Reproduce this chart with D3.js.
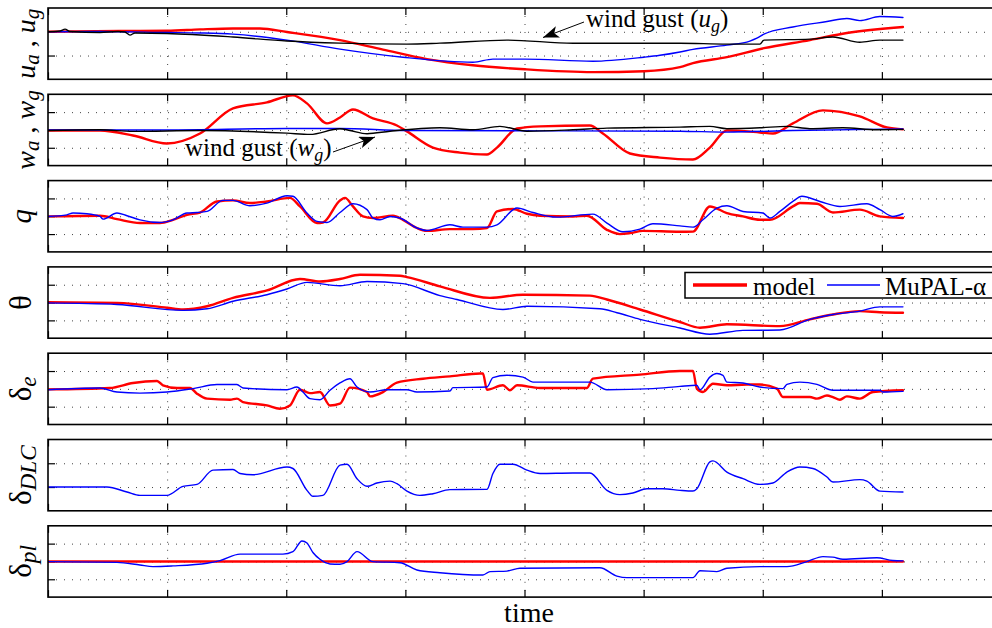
<!DOCTYPE html>
<html><head><meta charset="utf-8">
<script src="https://cdn.jsdelivr.net/npm/d3@7"></script>
<style>body{margin:0;background:#fff}svg{display:block}</style>
</head><body>
<svg id="chart" width="992" height="628"></svg>
<script>
// ---------- data (time, value) ----------
const xTicks = [0,10,20,30,40,50,60,70];

const uModel = [[0,0],[6.04,0.03],[9.99,0.04],[12.76,0.10],[15.53,0.14],[17.79,0.14],[20.06,-0.01],[24.51,-0.35],[28.12,-0.75],[31.81,-1.15],[35.67,-1.41],[40.04,-1.58],[45.74,-1.70],[50.03,-1.66],[53.05,-1.49],[54.14,-1.32],[56.99,-1.07],[60.1,-0.69],[63.96,-0.35],[67.06,-0.05],[71.77,0.20]];
const uMupal = [[0,0],[4.36,0.01],[9.99,-0.03],[12.76,-0.05],[15.53,-0.10],[20.06,-0.35],[24.51,-0.73],[29.8,-1.07],[35.67,-1.28],[37.35,-1.15],[40.04,-1.15],[45.74,-1.24],[50.03,-1.07],[51.37,-0.99],[53.05,-0.85],[54.14,-0.74],[56.99,-0.56],[58.92,-0.39],[59.51,-0.27],[60.1,-0.10],[62.53,0.20],[65.39,0.43],[67.06,0.56],[68.15,0.47],[69.83,0.64],[71.77,0.60]];
const uGust = [[0,0],[1.01,0.03],[1.43,0.11],[1.85,0.01],[4.36,-0.03],[5.88,0.01],[6.46,-0.01],[6.88,-0.14],[7.3,-0.05],[9.99,-0.07],[15.53,-0.22],[20.06,-0.39],[24.51,-0.48],[30.13,-0.52],[32.9,-0.48],[38.53,-0.35],[44.07,-0.48],[53.05,-0.48],[56.99,-0.52],[59.76,-0.52],[60.1,-0.35],[63.96,-0.31],[65.89,-0.22],[68.15,-0.44],[69.83,-0.35],[71.77,-0.35]];

const wModel = [[0,-0.03],[4.36,-0.03],[7.13,-0.31],[9.99,-0.76],[12.76,-0.20],[15.53,1.21],[18.38,1.55],[20.56,1.94],[21.74,1.49],[23.42,0.37],[24.51,0.70],[25.6,1.15],[27.28,0.65],[29.29,0.25],[30.13,-0.08],[32.31,-0.99],[34.58,-1.27],[36.85,-1.38],[37.69,-0.99],[39.37,0.08],[41.3,0.20],[45.49,0.25],[46.58,-0.20],[48.85,-1.32],[51.37,-1.55],[54.14,-1.66],[55.56,-0.99],[56.99,-0.03],[59.76,-0.14],[60.85,-0.20],[62.53,0.37],[65.05,1.10],[68.15,0.76],[70.42,0.14],[71.77,0.03]];
const wMupal = [[0,0],[9.99,0],[20.06,0.08],[24.51,0.08],[30.13,-0.03],[53.05,-0.07],[56.99,-0.12],[62.53,-0.03],[71.77,0.06]];
const wGust = [[0,-0.03],[4.36,0.01],[7.13,-0.08],[12.76,-0.03],[20.06,-0.18],[21.99,-0.25],[24.51,0.07],[25.35,-0.03],[26.78,-0.21],[28.71,-0.07],[32.9,0.12],[35.67,0.01],[37.94,0.20],[40.2,-0.07],[44.07,0.01],[46.92,0.10],[53.05,0.16],[55.56,0.20],[56.99,0.07],[59.76,0.12],[62.03,0.20],[63.96,0.07],[66.73,0.12],[69.58,0.01],[71.77,0.03]];

const qModel = [[0,-0.01],[4.36,0.03],[5.79,-0.16],[7.72,-0.38],[9.4,-0.38],[10.49,-0.20],[11.67,0.08],[12.76,0.21],[14.18,0.83],[15.53,0.89],[16.95,0.74],[18.38,0.83],[20.31,1.03],[21.15,0.55],[22.58,-0.38],[23.08,-0.35],[24.51,0.89],[24.93,1.03],[25.6,0.55],[26.44,-0.01],[27.28,-0.10],[28.96,0.03],[29.8,-0.20],[30.97,-0.66],[31.81,-0.82],[33.74,-0.72],[35.67,-0.72],[36.85,-0.66],[37.69,0.27],[39.03,0.41],[40.2,0.14],[41.3,0.03],[44.07,-0.01],[45.24,0.03],[46.92,-0.76],[48.01,-1.00],[48.85,-0.95],[49.94,-0.82],[53.05,-0.87],[54.14,-0.86],[55.56,0.55],[56.99,0.18],[58.34,-0.01],[59.76,-0.20],[60.6,-0.20],[62.53,0.55],[63.12,0.74],[64.55,0.70],[65.89,0.21],[68.15,0.37],[69.83,-0.01],[71.77,-0.10]];
const qMupal = [[0,-0.01],[1.59,0.08],[2.1,0.18],[3.27,0.14],[4.36,-0.01],[4.62,-0.16],[5.79,0.18],[6.63,0.03],[7.72,-0.20],[9.4,-0.35],[10.49,-0.20],[11.67,0.18],[12.51,0.21],[13.35,0.27],[14.69,0.89],[15.53,0.89],[16.95,0.59],[18.38,0.74],[20.06,1.15],[20.56,1.12],[21.74,0.18],[22.58,-0.29],[23.42,-0.35],[24.51,0.21],[25.6,0.70],[26.78,0.37],[27.28,-0.10],[27.87,-0.20],[28.71,-0.01],[29.55,-0.10],[30.97,-0.66],[31.81,-0.80],[33.74,-0.48],[34.83,-0.61],[36.85,-0.61],[37.69,-0.48],[39.37,0.46],[40.71,0.21],[42.72,-0.05],[45.74,0.12],[46.92,-0.38],[48.26,-0.87],[49.69,-0.72],[50.78,-0.42],[53.05,-0.54],[54.14,-0.61],[54.98,-0.20],[56.15,0.46],[56.99,0.59],[58.34,0.27],[60.01,0.18],[60.6,-0.10],[61.44,0.27],[62.53,0.83],[63.29,1.12],[64.8,0.83],[66.48,0.55],[68.74,0.70],[69.83,0.37],[70.92,-0.01],[71.77,0.14]];

const thModel = [[0,0.02],[5.79,-0.02],[9.99,-0.29],[11.33,-0.39],[13.35,-0.21],[15.53,0.26],[18.38,0.68],[21.15,1.32],[22.83,1.18],[24.51,1.32],[26.19,1.56],[29.55,1.50],[30.13,1.43],[32.9,0.91],[37.1,0.26],[39.87,0.44],[45.49,0.39],[46.92,0.17],[49.69,-0.39],[53.05,-1.09],[54.73,-1.41],[56.99,-1.22],[61.44,-1.32],[63.96,-0.94],[65.89,-0.67],[68.15,-0.48],[69.83,-0.54],[71.77,-0.57]];
const thMupal = [[0,-0.02],[5.79,-0.11],[11.33,-0.44],[13.35,-0.35],[15.53,0.07],[18.38,0.44],[20.06,0.76],[21.74,1.13],[24.51,0.94],[26.78,1.18],[29.8,1.06],[32.9,0.39],[34.33,0.17],[38.19,-0.39],[40.2,-0.21],[46.33,-0.35],[47.76,-0.57],[49.69,-0.94],[53.05,-1.43],[55.56,-1.78],[58.34,-1.56],[61.44,-1.54],[63.96,-0.94],[65.89,-0.67],[68.15,-0.48],[69.83,-0.24],[71.77,-0.24]];

const deModel = [[0,-0.03],[5.2,0.05],[7.13,0.33],[9.15,0.44],[9.65,0.20],[10.83,0.05],[11.92,0.05],[12.51,-0.27],[13.35,-0.55],[15.28,-0.61],[15.86,-0.55],[16.37,-0.74],[18.38,-0.93],[19.47,-1.12],[20.31,-0.93],[21.15,-0.05],[21.99,-0.24],[22.83,-0.18],[23.67,-0.93],[24.51,-0.83],[25.35,0.07],[26.78,-0.18],[27.03,-0.42],[28.12,-0.18],[29.29,0.35],[31.48,0.57],[33.74,0.70],[36.26,0.86],[36.51,0.86],[36.85,-0.05],[38.19,0.20],[38.78,-0.08],[39.37,0.20],[41.3,0.05],[45.24,0.05],[45.74,0.57],[49.69,0.80],[53.05,1.00],[54.14,1.00],[54.47,0.01],[54.98,-0.18],[55.82,0.29],[56.99,0.20],[58.67,0.24],[59.76,0.24],[61.19,0.01],[61.69,-0.46],[63.96,-0.46],[64.55,-0.55],[65.39,-0.37],[65.89,-0.46],[66.48,-0.61],[67.06,-0.42],[68.15,-0.55],[69.25,-0.18],[71.77,-0.08]];
const deMupal = [[0,-0.05],[4.36,0.05],[5.79,-0.18],[7.72,-0.24],[9.99,-0.18],[12.17,0.01],[14.18,0.24],[15.86,0.24],[16.37,0.05],[20.06,-0.05],[20.9,0.10],[21.4,-0.18],[21.99,-0.55],[22.83,-0.61],[23.67,-0.08],[24.51,0.33],[25.35,0.57],[25.94,0.10],[27.03,-0.18],[28.45,-0.05],[30.13,-0.05],[30.97,-0.18],[33.74,-0.12],[33.99,0.07],[36.85,0.10],[37.35,0.63],[38.53,0.76],[39.87,0.66],[40.71,0.38],[45.49,0.38],[46.92,-0.05],[50.78,0.01],[53.05,0.14],[54.47,0.20],[54.73,-0.05],[55.56,0.66],[56.15,0.86],[56.66,0.76],[56.99,0.38],[58.34,0.33],[59.76,0.10],[61.69,0.01],[62.03,0.25],[63.12,0.38],[64.55,0.25],[65.89,-0.08],[69.83,-0.08],[70.08,-0.18],[71.77,-0.14]];

const dlcMupal = [[0,0],[4.95,0],[6.63,-0.21],[7.72,-0.35],[9.99,-0.35],[11.33,0.03],[12.51,0.11],[13.85,0.71],[15.53,0.74],[16.12,0.57],[17.21,0.52],[20.06,0.84],[20.56,0.78],[21.74,-0.14],[22.24,-0.39],[23.08,-0.35],[24.51,0.92],[25.1,0.96],[25.94,0.35],[26.78,0.03],[27.61,0.17],[28.71,0.25],[29.29,0.14],[30.13,-0.17],[31.22,-0.35],[32.31,-0.28],[33.74,-0.11],[36.85,-0.10],[37.35,0.57],[37.94,0.96],[39.03,0.96],[40.2,0.71],[41.3,0.57],[44.07,0.59],[45.49,0.59],[46.92,-0.14],[48.01,-0.32],[49.1,-0.25],[50.28,-0.07],[51.62,-0.07],[53.05,-0.14],[54.14,-0.17],[54.47,-0.07],[55.56,1.06],[55.82,1.10],[56.99,0.63],[58.34,0.35],[59.76,0.11],[60.85,0.17],[62.03,0.63],[63.12,0.84],[64.21,0.78],[65.39,0.42],[65.89,0.21],[68.15,0.31],[68.74,0.25],[69.83,-0.17],[71.77,-0.21]];

const plModel = [[0,0],[71.77,0]];
const plMupal = [[0,-0.01],[5.79,-0.05],[7.72,-0.20],[8.81,-0.29],[10.49,-0.25],[13.35,-0.10],[14.44,0.05],[16.12,0.41],[19.72,0.41],[20.56,0.55],[21.32,1.15],[21.74,1.03],[22.24,0.50],[22.83,0.12],[23.67,-0.14],[24.51,-0.16],[25.1,-0.01],[25.94,0.55],[27.28,-0.01],[29.55,-0.07],[30.97,-0.48],[32.9,-0.63],[36.51,-0.76],[37.1,-0.57],[38.53,-0.54],[39.62,-0.38],[46.33,-0.35],[47.76,-0.82],[48.6,-0.91],[53.05,-0.91],[54.14,-0.91],[54.73,-0.52],[56.15,-0.57],[56.99,-0.38],[59.76,-0.29],[62.03,-0.29],[63.71,-0.01],[65.05,0.27],[65.89,0.24],[66.73,0.12],[69.58,0.21],[70.92,0.05],[71.77,0.03]];

const legendLabels = ["model", "MuPAL-\u03B1"];
const xLabel = "time";

// ---------- layout ----------
const svg = d3.select('#chart');
const FONT = '"Liberation Serif","Times New Roman",serif';
const left = 48, right = 1001;
const x = d3.scaleLinear().domain([0, 80]).range([left, right]);
const top0 = 8, step = 86.3, ph = 71.3;
const RED = '#ff0000', BLUE = '#0000ff', BLACK = '#000000';

const panels = [
  {label:[{t:'u',i:1},{t:'a',i:1,s:1},{t:' , '},{t:'u',i:1},{t:'g',i:1,s:1}], lx:35, fs:28, domain:[-2,1], ticks:[-1,0],
   series:[{d:uModel,c:RED,w:2.4},{d:uMupal,c:BLUE,w:1.4},{d:uGust,c:BLACK,w:1.4}]},
  {label:[{t:'w',i:1},{t:'a',i:1,s:1},{t:' , '},{t:'w',i:1},{t:'g',i:1,s:1}], lx:35, fs:28, domain:[-2,2], ticks:[-1,0,1],
   series:[{d:wModel,c:RED,w:2.4},{d:wMupal,c:BLUE,w:1.4},{d:wGust,c:BLACK,w:1.4}]},
  {label:[{t:'q',i:1}], lx:31, fs:29, domain:[-2,2], ticks:[-1,0,1],
   series:[{d:qModel,c:RED,w:2.4},{d:qMupal,c:BLUE,w:1.4}]},
  {label:[{t:'\u03B8'}], lx:31, fs:31, domain:[-2,2], ticks:[-1,0,1],
   series:[{d:thModel,c:RED,w:2.4},{d:thMupal,c:BLUE,w:1.4}]},
  {label:[{t:'\u03B4'},{t:'e',i:1,s:1}], lx:31, fs:31, domain:[-2,2], ticks:[-1,0,1],
   series:[{d:deModel,c:RED,w:2.4},{d:deMupal,c:BLUE,w:1.4}]},
  {label:[{t:'\u03B4'},{t:'DLC',i:1,s:1}], lx:31, fs:31, domain:[-1,2], ticks:[0,1],
   series:[{d:dlcMupal,c:BLUE,w:1.4}]},
  {label:[{t:'\u03B4'},{t:'pl',i:1,s:1}], lx:31, fs:31, domain:[-2,2], ticks:[-1,0,1],
   series:[{d:plModel,c:RED,w:2.4},{d:plMupal,c:BLUE,w:1.4}]}
];

const defs = svg.append('defs');

function drawLabel(g, segs, lx, cy, fs) {
  const t = g.append('text')
    .attr('transform', `translate(${lx},${cy}) rotate(-90)`)
    .attr('text-anchor', 'middle')
    .style('font-family', FONT).style('font-size', fs + 'px').attr('fill', '#000');
  let shift = 0;
  segs.forEach(s => {
    const sp = t.append('tspan').text(s.t);
    if (s.i) sp.style('font-style', 'italic');
    const target = s.s ? fs * 0.16 : 0;
    if (target !== shift) { sp.attr('dy', target - shift); shift = target; }
    if (s.s) sp.style('font-size', (fs * 0.75) + 'px');
  });
}

panels.forEach((p, i) => {
  const y0 = top0 + i * step, y1 = y0 + ph;
  const y = d3.scaleLinear().domain(p.domain).range([y1, y0]);
  const g = svg.append('g');

  // grid (dotted)
  const gx = g.append('g').attr('transform', `translate(0,${y0})`)
    .call(d3.axisBottom(x).tickValues(xTicks.slice(1)).tickSize(ph).tickFormat(''));
  const gy = g.append('g').attr('transform', `translate(${left},0)`)
    .call(d3.axisRight(y).tickValues(p.ticks).tickSize(right - left).tickFormat(''));
  [gx, gy].forEach(a => {
    a.select('.domain').remove();
    a.selectAll('line').attr('stroke', '#444').attr('stroke-width', 1).attr('stroke-dasharray', '1,7');
  });

  // tick marks (inward)
  const tk = 7;
  const ax1 = g.append('g').attr('transform', `translate(0,${y0})`).call(d3.axisBottom(x).tickValues(xTicks).tickSize(tk).tickFormat(''));
  const ax2 = g.append('g').attr('transform', `translate(0,${y1})`).call(d3.axisTop(x).tickValues(xTicks).tickSize(tk).tickFormat(''));
  const ay1 = g.append('g').attr('transform', `translate(${left},0)`).call(d3.axisRight(y).tickValues(p.ticks).tickSize(tk).tickFormat(''));
  [ax1, ax2, ay1].forEach(a => {
    a.select('.domain').remove();
    a.selectAll('line').attr('stroke', '#000').attr('stroke-width', 1.2);
  });

  // clip
  const cid = 'clip' + i;
  defs.append('clipPath').attr('id', cid).append('rect')
    .attr('x', left).attr('y', y0).attr('width', right - left).attr('height', ph);

  const line = d3.line().x(d => x(d[0])).y(d => y(d[1])).curve(d3.curveMonotoneX);
  const lg = g.append('g').attr('clip-path', `url(#${cid})`);
  p.series.forEach(s => {
    lg.append('path').datum(s.d).attr('d', line)
      .attr('fill', 'none').attr('stroke', s.c).attr('stroke-width', s.w)
      .attr('stroke-linejoin', 'round').attr('stroke-linecap', 'round');
  });

  // frame
  g.append('rect').attr('x', left).attr('y', y0).attr('width', right - left).attr('height', ph)
    .attr('fill', 'none').attr('stroke', '#000').attr('stroke-width', 1.6);

  drawLabel(g, p.label, p.lx, (y0 + y1) / 2, p.fs);
});

// ---------- annotations ----------
defs.append('marker').attr('id', 'ah').attr('markerUnits', 'userSpaceOnUse')
  .attr('viewBox', '0 0 16 12').attr('refX', 16).attr('refY', 6)
  .attr('markerWidth', 16).attr('markerHeight', 12).attr('orient', 'auto')
  .append('path').attr('d', 'M0,0 L16,6 L0,12 L4,6 Z').attr('fill', '#000');

function annot(tx, ty, segs, ax0, ay0, ax1, ay1) {
  svg.append('line').attr('x1', ax0).attr('y1', ay0).attr('x2', ax1).attr('y2', ay1)
    .attr('stroke', '#000').attr('stroke-width', 1).attr('marker-end', 'url(#ah)');
  const fs = 25;
  const t = svg.append('text').attr('x', tx).attr('y', ty)
    .style('font-family', FONT).style('font-size', fs + 'px').attr('fill', '#000');
  let shift = 0;
  segs.forEach(s => {
    const sp = t.append('tspan').text(s.t);
    if (s.i) sp.style('font-style', 'italic');
    const target = s.s ? fs * 0.2 : 0;
    if (target !== shift) { sp.attr('dy', target - shift); shift = target; }
    if (s.s) sp.style('font-size', (fs * 0.72) + 'px');
  });
}
annot(586, 27, [{t:'wind gust ('},{t:'u',i:1},{t:'g',i:1,s:1},{t:')'}], 584, 22, 543, 37.5);
annot(185, 156, [{t:'wind gust ('},{t:'w',i:1},{t:'g',i:1,s:1},{t:')'}], 333, 152, 375, 137);

// ---------- legend ----------
const lgd = svg.append('g');
lgd.append('rect').attr('x', 685).attr('y', 272.5).attr('width', 330).attr('height', 25.5)
  .attr('fill', '#fff').attr('stroke', '#000').attr('stroke-width', 1.5);
lgd.append('line').attr('x1', 693).attr('x2', 747).attr('y1', 285).attr('y2', 285).attr('stroke', RED).attr('stroke-width', 3.5);
lgd.append('text').attr('x', 753).attr('y', 294.5).text(legendLabels[0])
  .style('font-family', FONT).style('font-size', '25px');
lgd.append('line').attr('x1', 827).attr('x2', 880).attr('y1', 285).attr('y2', 285).attr('stroke', BLUE).attr('stroke-width', 1.5);
lgd.append('text').attr('x', 885).attr('y', 294.5).text(legendLabels[1])
  .style('font-family', FONT).style('font-size', '25px');

// ---------- x label ----------
svg.append('text').attr('x', 529).attr('y', 622).attr('text-anchor', 'middle')
  .style('font-family', FONT).style('font-size', '28px').text(xLabel);
</script>
</body></html>
